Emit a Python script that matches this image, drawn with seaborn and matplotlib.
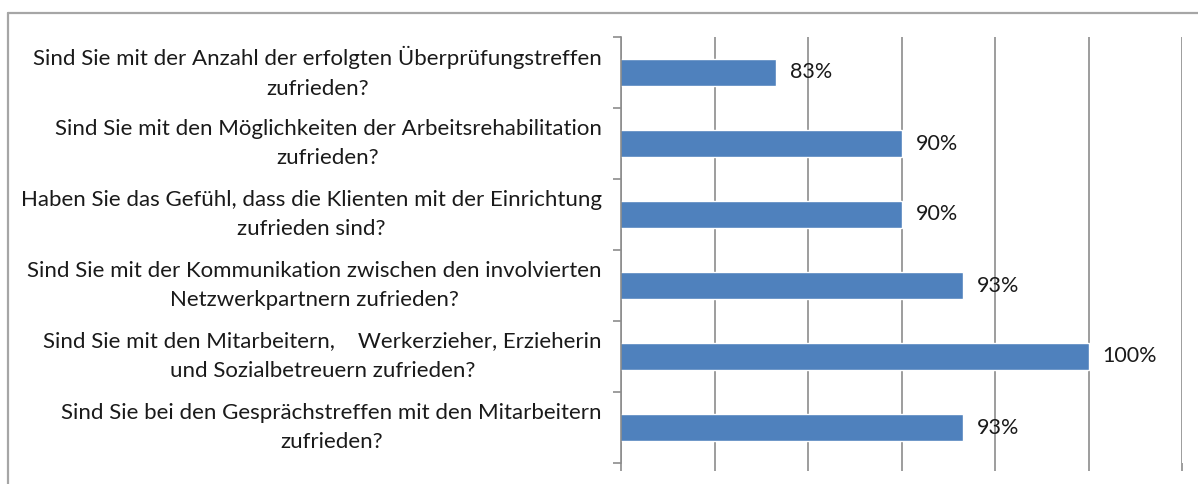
import pandas as pd
import matplotlib
matplotlib.use("Agg")
import matplotlib.pyplot as plt
import seaborn as sns
from matplotlib.lines import Line2D
from matplotlib.ticker import FixedLocator, MultipleLocator, NullFormatter

questions = [
    "Sind Sie mit der Anzahl der erfolgten Überprüfungstreffen\nzufrieden?",
    "Sind Sie mit den Möglichkeiten der Arbeitsrehabilitation\nzufrieden?",
    "Haben Sie das Gefühl, dass die Klienten mit der Einrichtung\nzufrieden sind?",
    "Sind Sie mit der Kommunikation zwischen den involvierten\nNetzwerkpartnern zufrieden?",
    "Sind Sie mit den Mitarbeitern,    Werkerzieher, Erzieherin\nund Sozialbetreuern zufrieden?",
    "Sind Sie bei den Gesprächstreffen mit den Mitarbeitern\nzufrieden?",
]
values = [83.3, 90.0, 90.0, 93.3, 100.0, 93.3]

df = pd.DataFrame({"Frage": questions, "Anteil": values})

sns.set_style("white")
plt.rcParams["font.family"] = ["Lato", "DejaVu Sans"]

fig = plt.figure(figsize=(11.98, 4.84), dpi=100)
ax = fig.add_axes([621 / 1198, 1 - 463 / 484, (1182 - 621) / 1198, (463 - 37) / 484])

sns.barplot(data=df, x="Anteil", y="Frage", orient="h", color="#4F81BD",
            saturation=1, width=0.38, ax=ax)

ax.set_xlim(75, 105)
ax.set_ylim(5.5, -0.5)
ax.xaxis.set_major_locator(MultipleLocator(5))
ax.xaxis.set_major_formatter(NullFormatter())
ax.grid(axis="x", color="#8C8C8C", linewidth=1.2)
ax.set_axisbelow(True)
ax.set_xlabel("")
ax.set_ylabel("")

# value labels
for i, v in enumerate(values):
    ax.text(v + 0.75, i, f"{v:.0f}%", va="center", ha="left", fontsize=15.5, color="#1a1a1a")

# category labels and Excel-like ticks
ax.set_yticks(range(len(questions)))
ax.set_yticklabels(questions, fontsize=16, multialignment="center", color="#1a1a1a",
                   linespacing=1.62, va="center")
ax.tick_params(axis="y", which="major", length=0, pad=14)
ax.yaxis.set_minor_locator(FixedLocator([i - 0.5 for i in range(len(questions) + 1)]))
ax.tick_params(axis="y", which="minor", length=6, color="#8C8C8C", width=1.2, left=True)
ax.tick_params(axis="x", which="major", length=6, color="#8C8C8C", width=1.2, bottom=True)

for s in ["top", "right", "bottom"]:
    ax.spines[s].set_visible(False)
ax.spines["left"].set_color("#8C8C8C")
ax.spines["left"].set_linewidth(1.2)

# chart border
bx = 8 / 1198
by = 1 - 13 / 484
fig.add_artist(Line2D([bx, 1], [by, by], transform=fig.transFigure, color="#A6A6A6", linewidth=1.6))
fig.add_artist(Line2D([bx, bx], [0, by], transform=fig.transFigure, color="#A6A6A6", linewidth=1.6))

fig.savefig("out.png", dpi=100)
